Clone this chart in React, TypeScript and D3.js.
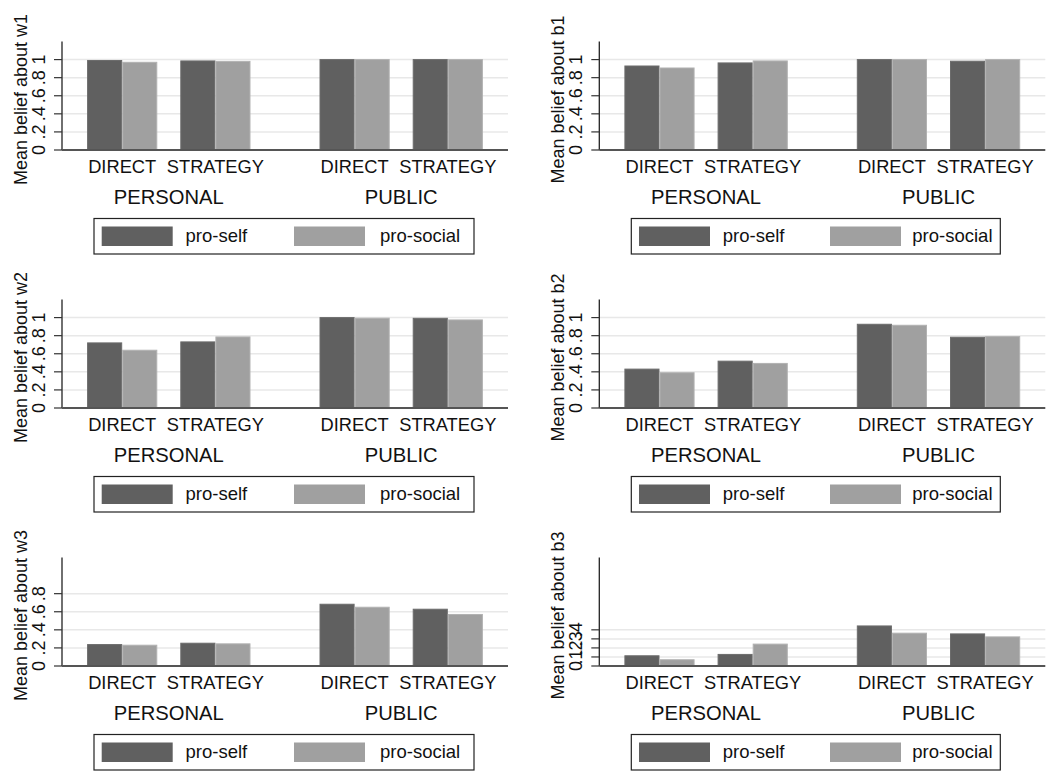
import React from 'react'
import * as d3 from 'd3'

// outer and inner categories, series
const groups = ['PERSONAL', 'PUBLIC']
const conditions = ['DIRECT', 'STRATEGY']
const seriesNames = ['pro-self', 'pro-social']
const panelNames = ['w1', 'b1', 'w2', 'b2', 'w3', 'b3']

// values in order: PERSONAL/DIRECT, PERSONAL/STRATEGY, PUBLIC/DIRECT, PUBLIC/STRATEGY
const w1ProSelf = [0.99, 0.985, 1.0, 1.0]
const w1ProSocial = [0.97, 0.98, 1.0, 1.0]
const b1ProSelf = [0.929, 0.963, 1.0, 0.982]
const b1ProSocial = [0.907, 0.985, 1.0, 1.0]
const w2ProSelf = [0.72, 0.731, 1.0, 0.992]
const w2ProSocial = [0.639, 0.786, 0.993, 0.974]
const b2ProSelf = [0.43, 0.518, 0.926, 0.783]
const b2ProSocial = [0.39, 0.493, 0.915, 0.79]
const w3ProSelf = [0.237, 0.252, 0.683, 0.628]
const w3ProSocial = [0.23, 0.245, 0.65, 0.57]
const b3ProSelf = [0.113, 0.128, 0.443, 0.355]
const b3ProSocial = [0.069, 0.242, 0.363, 0.322]

const ticksUnit = [0, 0.2, 0.4, 0.6, 0.8, 1]
const ticksW3 = [0, 0.2, 0.4, 0.6, 0.8]
const ticksB3 = [0, 0.1, 0.2, 0.3, 0.4]

const panelSelf = [w1ProSelf, b1ProSelf, w2ProSelf, b2ProSelf, w3ProSelf, b3ProSelf]
const panelSocial = [w1ProSocial, b1ProSocial, w2ProSocial, b2ProSocial, w3ProSocial, b3ProSocial]
const panelTicks = [ticksUnit, ticksUnit, ticksUnit, ticksUnit, ticksW3, ticksB3]

const FONT = '"Liberation Sans", Arial, Helvetica, sans-serif'
const colors = ['#606060', '#a0a0a0']
const strokes = ['#6c6c6c', '#b2b2b2']

const fmt = (d: number) => (d === 0 ? '0' : d === 1 ? '1' : String(d).replace(/^0/, ''))

const Panel = ({ idx }: { idx: number }) => {
  const col = idx % 2
  const row = Math.floor(idx / 2)
  const ox = col * 537.3
  const oy = row * 258

  const left = 62
  const right = 508
  const top = 41.5
  const base = 150

  const y = d3.scaleLinear().domain([0, 1.2]).range([base, top])
  const xGroup = d3.scaleBand().domain(groups).range([left, right]).paddingInner(0.297).paddingOuter(0.108)
  const xCond = d3.scaleBand().domain(conditions).range([0, xGroup.bandwidth()]).paddingInner(0.247)
  const xSer = d3.scaleBand().domain(seriesNames).range([0, xCond.bandwidth()])

  const rows = groups.flatMap((g, gi) =>
    conditions.map((c, ci) => ({
      g,
      c,
      vals: [panelSelf[idx][gi * 2 + ci], panelSocial[idx][gi * 2 + ci]],
    }))
  )
  const ticks = panelTicks[idx]
  const narrow = col === 1
  const legRight = narrow ? 463 : 474
  const socialX = narrow ? 375 : 380

  return (
    <g transform={`translate(${ox},${oy})`}>
      {ticks
        .filter(t => t > 0)
        .map(t => (
          <line key={'g' + t} x1={left} x2={right} y1={y(t)} y2={y(t)} stroke="#e8e8e8" strokeWidth={1.5} />
        ))}
      {rows.map(r =>
        r.vals.map((v, si) => {
          const x0 = (xGroup(r.g) ?? 0) + (xCond(r.c) ?? 0) + (xSer(seriesNames[si]) ?? 0)
          return (
            <rect
              key={r.g + r.c + si}
              x={x0 + 0.5}
              y={y(v)}
              width={xSer.bandwidth() - 1}
              height={base - y(v)}
              fill={colors[si]}
              stroke={strokes[si]}
              strokeWidth={1}
            />
          )
        })
      )}
      <line x1={left} x2={left} y1={top} y2={base} stroke="#222" strokeWidth={1.3} />
      <line x1={left} x2={right} y1={base} y2={base} stroke="#555" strokeWidth={1.8} />
      {ticks.map(t => (
        <g key={'t' + t}>
          <line x1={left - 8} x2={left} y1={y(t)} y2={y(t)} stroke="#333" strokeWidth={1.2} />
          <text
            transform={`translate(45,${y(t)}) rotate(-90)`}
            textAnchor="middle"
            fontSize={18}
            fill="#111"
          >
            {fmt(t)}
          </text>
        </g>
      ))}
      <text transform={`translate(27,99.5) rotate(-90)`} textAnchor="middle" fontSize={18} fill="#111">
        {'Mean belief about ' + panelNames[idx]}
      </text>
      {rows.map(r => (
        <text
          key={'c' + r.g + r.c}
          x={(xGroup(r.g) ?? 0) + (xCond(r.c) ?? 0) + xCond.bandwidth() / 2}
          y={172.5}
          textAnchor="middle"
          fontSize={18.3}
          fill="#111"
        >
          {r.c}
        </text>
      ))}
      {groups.map(g => (
        <text
          key={'o' + g}
          x={(xGroup(g) ?? 0) + xGroup.bandwidth() / 2}
          y={204}
          textAnchor="middle"
          fontSize={20.2}
          fill="#111"
        >
          {g}
        </text>
      ))}
      <rect x={94} y={218.5} width={legRight - 94} height={35.5} fill="#fff" stroke="#222" strokeWidth={1.2} />
      <rect x={101.7} y={226.5} width={71} height={19.5} fill={colors[0]} />
      <rect x={narrow ? 292.7 : 294} y={226.5} width={71} height={19.5} fill={colors[1]} />
      <text x={185.5} y={242.3} fontSize={18.5} fill="#111">
        {seriesNames[0]}
      </text>
      <text x={socialX} y={242.3} fontSize={18.5} fill="#111">
        {seriesNames[1]}
      </text>
    </g>
  )
}

export default function App() {
  return (
    <div style={{ position: 'absolute', left: 0, top: 0, background: '#fff' }}>
      <svg width={1046} height={771} style={{ display: 'block', fontFamily: FONT }}>
        <rect width={1046} height={771} fill="#fff" />
        {panelNames.map((_, i) => (
          <Panel key={i} idx={i} />
        ))}
      </svg>
    </div>
  )
}
